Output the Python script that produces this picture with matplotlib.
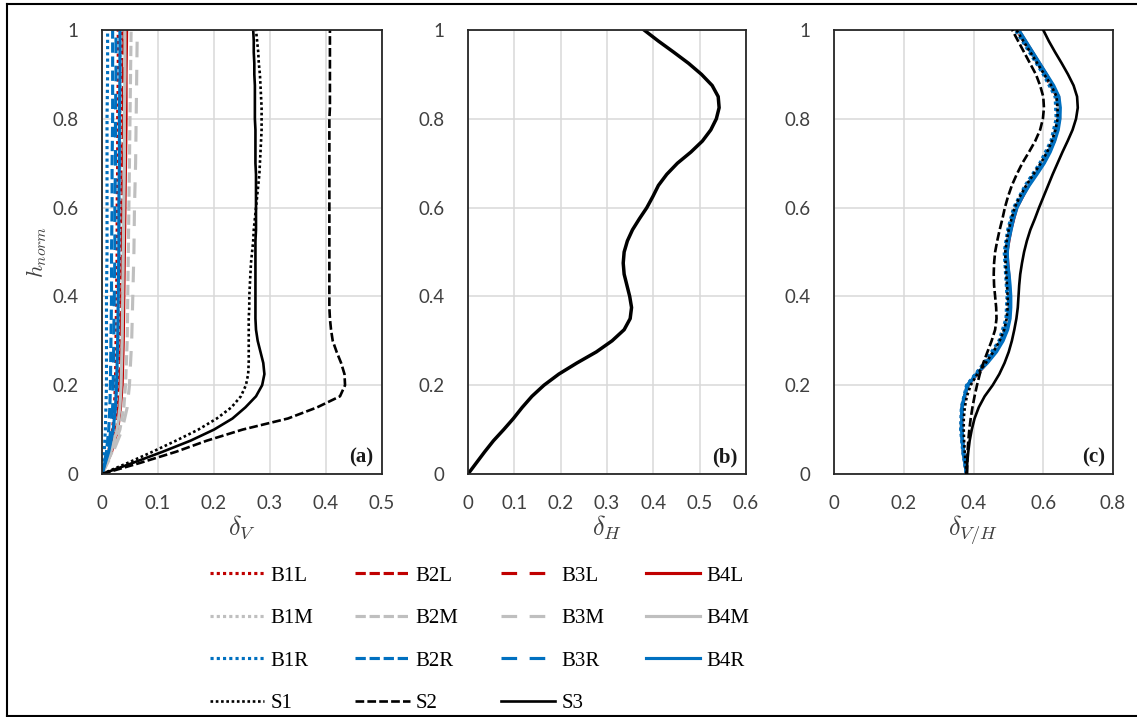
import matplotlib
matplotlib.use("Agg")
import matplotlib.pyplot as plt
from matplotlib.lines import Line2D
from matplotlib.ticker import FuncFormatter, MultipleLocator

plt.rcParams['mathtext.fontset'] = 'cm'

# height grids (h_norm)
h_b = [0, 0.05, 0.1, 0.15, 0.2, 0.3, 0.4, 0.5, 0.6, 0.7, 0.8, 0.9, 1.0]
h21 = [0, 0.05, 0.1, 0.15, 0.2, 0.25, 0.3, 0.35, 0.4, 0.45, 0.5,
       0.55, 0.6, 0.65, 0.7, 0.75, 0.8, 0.85, 0.9, 0.95, 1.0]
h41 = [0, 0.025, 0.05, 0.075, 0.1, 0.125, 0.15, 0.175, 0.2, 0.225, 0.25,
       0.275, 0.3, 0.325, 0.35, 0.375, 0.4, 0.425, 0.45, 0.475, 0.5,
       0.525, 0.55, 0.575, 0.6, 0.625, 0.65, 0.675, 0.7, 0.725, 0.75,
       0.775, 0.8, 0.825, 0.85, 0.875, 0.9, 0.925, 0.95, 0.975, 1.0]

# (a) delta_V, building series (on h_b)
B1L_a = [0, 0.012, 0.019, 0.022, 0.024, 0.025, 0.026, 0.027, 0.027, 0.028, 0.028, 0.029, 0.029]
B2L_a = [0, 0.014, 0.023, 0.027, 0.029, 0.031, 0.032, 0.033, 0.034, 0.034, 0.035, 0.035, 0.036]
B3L_a = [0, 0.015, 0.025, 0.029, 0.031, 0.033, 0.034, 0.035, 0.036, 0.037, 0.037, 0.038, 0.038]
B4L_a = [0, 0.017, 0.028, 0.033, 0.036, 0.038, 0.039, 0.040, 0.041, 0.042, 0.043, 0.043, 0.044]
B1M_a = [0, 0.013, 0.021, 0.025, 0.027, 0.029, 0.030, 0.031, 0.032, 0.032, 0.033, 0.033, 0.034]
B2M_a = [0, 0.018, 0.032, 0.039, 0.042, 0.045, 0.046, 0.047, 0.048, 0.049, 0.050, 0.051, 0.052]
B3M_a = [0, 0.020, 0.036, 0.045, 0.049, 0.053, 0.055, 0.057, 0.058, 0.060, 0.061, 0.062, 0.063]
B4M_a = [0, 0.016, 0.027, 0.032, 0.034, 0.036, 0.037, 0.038, 0.039, 0.040, 0.040, 0.041, 0.041]
B1R_a = [0, 0.004, 0.006, 0.007, 0.008, 0.008, 0.008, 0.009, 0.009, 0.009, 0.009, 0.010, 0.010]
B2R_a = [0, 0.008, 0.012, 0.014, 0.015, 0.016, 0.017, 0.017, 0.018, 0.018, 0.019, 0.019, 0.019]
B3R_a = [0, 0.010, 0.016, 0.019, 0.020, 0.021, 0.022, 0.023, 0.023, 0.024, 0.024, 0.025, 0.025]
B4R_a = [0, 0.012, 0.020, 0.024, 0.026, 0.028, 0.029, 0.030, 0.030, 0.031, 0.031, 0.032, 0.032]

# (a) delta_V, S series (on h41)
S1_a = [0, 0.046, 0.09, 0.132, 0.172, 0.205, 0.231, 0.248, 0.257, 0.261, 0.262,
        0.262, 0.262, 0.262, 0.262, 0.263, 0.263, 0.264, 0.265, 0.266, 0.268,
        0.27, 0.271, 0.273, 0.275, 0.277, 0.279, 0.281, 0.282, 0.283, 0.284,
        0.285, 0.285, 0.285, 0.284, 0.283, 0.282, 0.28, 0.279, 0.277, 0.275]
S2_a = [0, 0.068, 0.132, 0.187, 0.251, 0.332, 0.384, 0.425, 0.434, 0.433, 0.427,
        0.419, 0.412, 0.409, 0.407, 0.406, 0.406, 0.406, 0.406, 0.406, 0.406,
        0.406, 0.406, 0.406, 0.406, 0.406, 0.406, 0.406, 0.406, 0.406, 0.406,
        0.406, 0.406, 0.407, 0.407, 0.407, 0.407, 0.407, 0.407, 0.407, 0.407]
S3_a = [0, 0.055, 0.108, 0.158, 0.2, 0.233, 0.256, 0.275, 0.286, 0.29, 0.288,
        0.283, 0.278, 0.275, 0.274, 0.274, 0.274, 0.274, 0.274, 0.274, 0.274,
        0.274, 0.275, 0.275, 0.275, 0.275, 0.275, 0.275, 0.274, 0.274, 0.274,
        0.274, 0.273, 0.273, 0.273, 0.273, 0.272, 0.272, 0.271, 0.271, 0.27]

# (b) delta_H (on h41)
dH = [0, 0.018, 0.036, 0.055, 0.077, 0.098, 0.117, 0.138, 0.164, 0.196, 0.235,
      0.277, 0.311, 0.337, 0.35, 0.353, 0.349, 0.343, 0.337, 0.335, 0.337,
      0.344, 0.355, 0.37, 0.386, 0.399, 0.411, 0.429, 0.452, 0.481, 0.506,
      0.524, 0.536, 0.542, 0.54, 0.527, 0.504, 0.476, 0.444, 0.411, 0.38]

# (c) delta_V/H, building series (on h21, B4R on h41)
B1L_c = [0.38, 0.37, 0.365, 0.366, 0.382, 0.433, 0.477, 0.497, 0.5, 0.496, 0.491,
         0.501, 0.518, 0.552, 0.594, 0.626, 0.641, 0.638, 0.604, 0.564, 0.524]
B2L_c = [0.38, 0.371, 0.366, 0.367, 0.383, 0.436, 0.48, 0.5, 0.502, 0.498, 0.493,
         0.504, 0.521, 0.555, 0.598, 0.629, 0.644, 0.641, 0.606, 0.566, 0.526]
B3L_c = [0.38, 0.371, 0.366, 0.367, 0.384, 0.437, 0.482, 0.502, 0.504, 0.5, 0.495,
         0.506, 0.523, 0.557, 0.6, 0.631, 0.646, 0.643, 0.608, 0.568, 0.528]
B4L_c = [0.38, 0.371, 0.366, 0.367, 0.384, 0.438, 0.483, 0.503, 0.505, 0.501, 0.496,
         0.507, 0.524, 0.558, 0.601, 0.632, 0.647, 0.644, 0.609, 0.569, 0.529]
B1M_c = [0.38, 0.37, 0.364, 0.366, 0.381, 0.432, 0.475, 0.495, 0.498, 0.494, 0.49,
         0.5, 0.517, 0.55, 0.592, 0.624, 0.639, 0.636, 0.602, 0.562, 0.522]
B2M_c = [0.38, 0.37, 0.365, 0.366, 0.382, 0.434, 0.478, 0.498, 0.5, 0.496, 0.492,
         0.502, 0.519, 0.553, 0.595, 0.627, 0.642, 0.639, 0.604, 0.564, 0.524]
B3M_c = [0.38, 0.371, 0.366, 0.367, 0.383, 0.435, 0.479, 0.499, 0.501, 0.497, 0.493,
         0.503, 0.52, 0.554, 0.597, 0.628, 0.643, 0.64, 0.605, 0.565, 0.525]
B4M_c = [0.38, 0.371, 0.366, 0.367, 0.384, 0.437, 0.481, 0.501, 0.503, 0.499, 0.494,
         0.505, 0.522, 0.556, 0.599, 0.63, 0.645, 0.642, 0.607, 0.567, 0.527]
B1R_c = [0.38, 0.369, 0.363, 0.365, 0.38, 0.43, 0.473, 0.493, 0.496, 0.492, 0.488,
         0.498, 0.515, 0.548, 0.59, 0.622, 0.637, 0.634, 0.6, 0.56, 0.52]
B2R_c = [0.38, 0.37, 0.365, 0.366, 0.382, 0.435, 0.479, 0.499, 0.501, 0.497, 0.492,
         0.503, 0.52, 0.554, 0.596, 0.628, 0.643, 0.64, 0.605, 0.565, 0.525]
B3R_c = [0.38, 0.371, 0.366, 0.367, 0.383, 0.437, 0.482, 0.502, 0.504, 0.5, 0.495,
         0.505, 0.522, 0.557, 0.6, 0.63, 0.645, 0.642, 0.607, 0.567, 0.527]
B4R_c = [0.38, 0.376, 0.372, 0.369, 0.367, 0.366, 0.368, 0.374, 0.385, 0.408, 0.44,
         0.466, 0.485, 0.498, 0.505, 0.507, 0.507, 0.505, 0.502, 0.498, 0.497,
         0.501, 0.508, 0.515, 0.525, 0.541, 0.56, 0.582, 0.603, 0.62, 0.633,
         0.643, 0.648, 0.649, 0.645, 0.63, 0.61, 0.59, 0.57, 0.55, 0.53]

# (c) delta_V/H, S series (on h41)
S1_c = [0.38, 0.377, 0.375, 0.373, 0.372, 0.372, 0.375, 0.381, 0.392, 0.411, 0.435,
        0.457, 0.475, 0.488, 0.495, 0.498, 0.498, 0.496, 0.494, 0.492, 0.491,
        0.495, 0.501, 0.509, 0.518, 0.533, 0.551, 0.572, 0.593, 0.611, 0.625,
        0.635, 0.641, 0.641, 0.638, 0.623, 0.603, 0.583, 0.563, 0.543, 0.523]
S2_c = [0.381, 0.382, 0.383, 0.385, 0.388, 0.392, 0.397, 0.403, 0.41, 0.418, 0.428,
        0.44, 0.452, 0.462, 0.466, 0.465, 0.462, 0.459, 0.458, 0.459, 0.462,
        0.468, 0.475, 0.483, 0.49, 0.499, 0.51, 0.524, 0.54, 0.559, 0.577,
        0.591, 0.599, 0.602, 0.6, 0.591, 0.579, 0.562, 0.545, 0.528, 0.511]
S3_c = [0.381, 0.382, 0.385, 0.389, 0.395, 0.403, 0.415, 0.432, 0.455, 0.474, 0.489,
        0.501, 0.51, 0.517, 0.523, 0.527, 0.529, 0.531, 0.534, 0.539, 0.545,
        0.553, 0.563, 0.576, 0.588, 0.601, 0.614, 0.627, 0.641, 0.655, 0.67,
        0.684, 0.694, 0.699, 0.697, 0.687, 0.671, 0.653, 0.634, 0.616, 0.6]

red, gray, blue = '#C00000', '#BFBFBF', '#0070C0'
# 1: round dot, 2: dash, 3: long dash, 4: solid
styles = {1: (0, (1, 1)), 2: (0, (3.3, 1.2)), 3: (0, (5, 4)), 4: '-'}
col = {'L': red, 'M': gray, 'R': blue}

b_a = {'B1L': B1L_a, 'B2L': B2L_a, 'B3L': B3L_a, 'B4L': B4L_a,
       'B1M': B1M_a, 'B2M': B2M_a, 'B3M': B3M_a, 'B4M': B4M_a,
       'B1R': B1R_a, 'B2R': B2R_a, 'B3R': B3R_a, 'B4R': B4R_a}
b_c = {'B1L': B1L_c, 'B2L': B2L_c, 'B3L': B3L_c, 'B4L': B4L_c,
       'B1M': B1M_c, 'B2M': B2M_c, 'B3M': B3M_c, 'B4M': B4M_c,
       'B1R': B1R_c, 'B2R': B2R_c, 'B3R': B3R_c, 'B4R': B4R_c}
s_a = {'S1': S1_a, 'S2': S2_a, 'S3': S3_a}
s_c = {'S1': S1_c, 'S2': S2_c, 'S3': S3_c}
s_style = {'S1': styles[1], 'S2': styles[2], 'S3': styles[4]}

fig = plt.figure(figsize=(11.37, 7.17), dpi=100)
W, H = 1137, 717
ax_a = fig.add_axes([102 / W, 1 - 474 / H, 280 / W, 444 / H])
ax_b = fig.add_axes([468 / W, 1 - 474 / H, 278 / W, 444 / H])
ax_c = fig.add_axes([834 / W, 1 - 474 / H, 279 / W, 444 / H])

fmt = FuncFormatter(lambda v, p: '{:g}'.format(round(v, 2)))
tc = '#404040'

for ax, xmax, step, lab, xl in [(ax_a, 0.5, 0.1, '(a)', r'$\delta_V$'),
                                (ax_b, 0.6, 0.1, '(b)', r'$\delta_H$'),
                                (ax_c, 0.8, 0.2, '(c)', r'$\delta_{V/H}$')]:
    ax.set_xlim(0, xmax)
    ax.set_ylim(0, 1)
    ax.xaxis.set_major_locator(MultipleLocator(step))
    ax.yaxis.set_major_locator(MultipleLocator(0.2))
    ax.xaxis.set_major_formatter(fmt)
    ax.yaxis.set_major_formatter(fmt)
    ax.grid(True, color='#d9d9d9', linewidth=1.1)
    ax.set_axisbelow(True)
    ax.tick_params(length=0, labelsize=13.5, labelcolor=tc)
    ax.tick_params(axis='x', pad=15)
    ax.tick_params(axis='y', pad=17)
    for s in ax.spines.values():
        s.set_color('#262626')
        s.set_linewidth(1.3)
    for t in ax.get_xticklabels() + ax.get_yticklabels():
        t.set_fontfamily('Lato')
    ax.set_xlabel(xl, fontsize=19, color=tc, labelpad=1)
    ax.text(0.97, 0.015, lab, transform=ax.transAxes, ha='right', va='bottom',
            fontsize=15, fontweight='bold', family='Liberation Serif', color='#1a1a1a',
            zorder=5)

ax_a.set_ylabel(r'$h_{norm}$', fontsize=16, color=tc, labelpad=2)

handles = {}
for name, vals in b_a.items():
    ln, = ax_a.plot(vals, h_b, color=col[name[2]], linestyle=styles[int(name[1])],
                    linewidth=2.25)
    handles[name] = ln
for name in ['S1', 'S2', 'S3']:
    ln, = ax_a.plot(s_a[name], h41, color='black', linestyle=s_style[name],
                    linewidth=1.9, solid_joinstyle='round')
    handles[name] = ln
    ax_c.plot(s_c[name], h41, color='black', linestyle=s_style[name],
              linewidth=1.9, solid_joinstyle='round', zorder=3)
for name, vals in b_c.items():
    hh = h41 if len(vals) == len(h41) else h21
    ax_c.plot(vals, hh, color=col[name[2]], linestyle=styles[int(name[1])],
              linewidth=2.25, solid_joinstyle='round', zorder=2)

ax_b.plot(dH, h41, color='black', linewidth=2.5, solid_joinstyle='round')

order = ['B1L', 'B1M', 'B1R', 'S1', 'B2L', 'B2M', 'B2R', 'S2',
         'B3L', 'B3M', 'B3R', 'S3', 'B4L', 'B4M', 'B4R']
fig.legend([handles[n] for n in order], order, ncol=4, loc='upper left',
           bbox_to_anchor=(210 / W, 1 - 566 / H), frameon=False,
           prop={'family': 'Liberation Serif', 'size': 15},
           handlelength=2.6, handletextpad=0.3, columnspacing=2.02,
           labelspacing=1.1, borderpad=0, borderaxespad=0)

# outer frame
fig.add_artist(Line2D([7 / W, 7 / W], [1 / H, 1 - 4 / H], transform=fig.transFigure,
                      color='black', linewidth=1.5))
fig.add_artist(Line2D([7 / W, 1], [1 - 4 / H, 1 - 4 / H], transform=fig.transFigure,
                      color='black', linewidth=1.5))
fig.add_artist(Line2D([7 / W, 1], [1 / H, 1 / H], transform=fig.transFigure,
                      color='black', linewidth=1.5))

fig.savefig('out.png', dpi=100)
